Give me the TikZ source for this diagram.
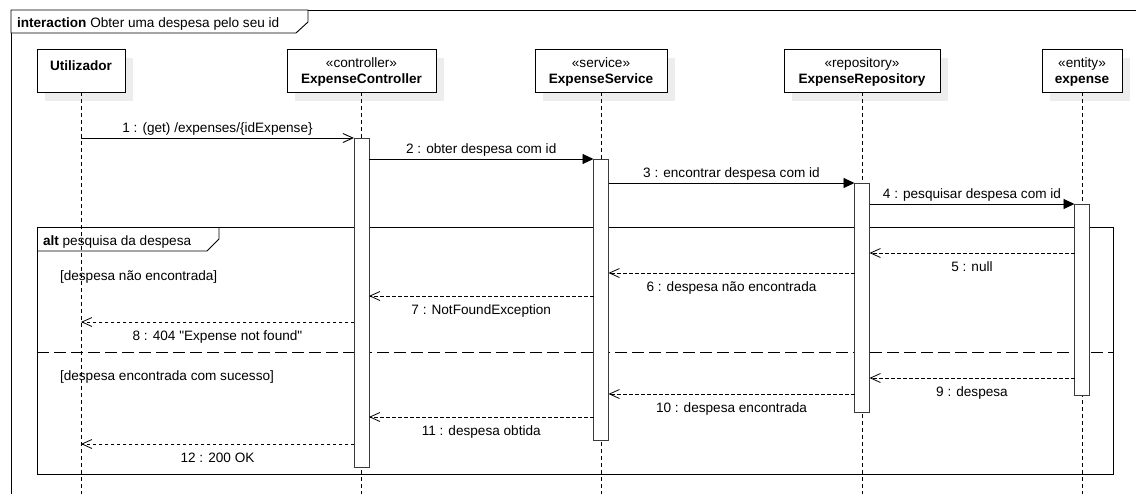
\documentclass[tikz,border=0pt]{standalone}
\usepackage{fontspec}
\setmainfont{Liberation Sans}
\usetikzlibrary{arrows.meta}
\definecolor{shadowgray}{HTML}{EDEDED}
\definecolor{barline}{HTML}{3A3A3A}
\begin{document}
\begin{tikzpicture}[x=1pt,y=-1pt,
  every node/.style={inner sep=0pt, outer sep=0pt, font=\fontsize{13.6}{16}\selectfont},
  objbox/.style={draw, fill=white, line width=0.9pt, minimum height=43pt},
  shadowbox/.style={fill=shadowgray, draw=none, minimum height=43pt},
  boxtext/.style={anchor=base},
  lifeline/.style={line width=0.8pt, dash pattern=on 4pt off 3pt},
  actbar/.style={draw=barline, fill=white, line width=0.9pt, minimum width=15pt, anchor=north},
  frameline/.style={line width=0.9pt},
  call/.style={line width=0.9pt, -{Triangle[length=11pt,width=10pt]}},
  opencall/.style={line width=0.9pt, -{Straight Barb[length=10pt,width=9pt]}},
  reply/.style={line width=0.8pt, dash pattern=on 3.5pt off 2.5pt, -{Straight Barb[length=10pt,width=9pt]}},
  calllbl/.style={anchor=base, yshift=5.5pt},
  replylbl/.style={anchor=base, yshift=-18pt},
]
\useasboundingbox (0,0) rectangle (1136,493);
\clip (0,0) rectangle (1136,493);

% message rows
\coordinate (r1) at (0,138);
\coordinate (r2) at (0,159);
\coordinate (r3) at (0,183);
\coordinate (r4) at (0,204);
\coordinate (r5) at (0,253);
\coordinate (r6) at (0,273);
\coordinate (r7) at (0,296);
\coordinate (r8) at (0,322);
\coordinate (r9) at (0,378);
\coordinate (r10) at (0,394);
\coordinate (r11) at (0,417);
\coordinate (r12) at (0,444);
\coordinate (bottom) at (0,500);

% outer interaction frame
\draw[frameline] (11,10) rectangle (1160,520);
\draw[frameline, fill=white] (11,10) -- (308,10) -- (308,22) -- (296,33) -- (11,33) -- cycle;
\node[anchor=base west] (frameTitle) at (17,27) {\textbf{interaction} Obter uma despesa pelo seu id};

% lifeline heads with shadows
\node[shadowbox, minimum width=88pt] (userSh) at (89,79.5) {};
\node[shadowbox, minimum width=149pt] (ctrlSh) at (369.5,79.5) {};
\node[shadowbox, minimum width=132pt] (svcSh) at (609,79.5) {};
\node[shadowbox, minimum width=156pt] (repoSh) at (870,79.5) {};
\node[shadowbox, minimum width=80pt] (entSh) at (1090,79.5) {};

\node[objbox, minimum width=88pt] (user) at (81,70.5) {};
\node[objbox, minimum width=149pt] (ctrl) at (361.5,70.5) {};
\node[objbox, minimum width=132pt] (svc) at (601,70.5) {};
\node[objbox, minimum width=156pt] (repo) at (862,70.5) {};
\node[objbox, minimum width=80pt] (ent) at (1082,70.5) {};

\node[boxtext] (userName) at (81,70) {\textbf{Utilizador}};
\node[boxtext] (ctrlSt) at (361.5,67) {«controller»};
\node[boxtext] (ctrlName) at (361.5,83) {\textbf{ExpenseController}};
\node[boxtext] (svcSt) at (601,67) {«service»};
\node[boxtext] (svcName) at (601,83) {\textbf{ExpenseService}};
\node[boxtext] (repoSt) at (862,67) {«repository»};
\node[boxtext] (repoName) at (862,83) {\textbf{ExpenseRepository}};
\node[boxtext] (entSt) at (1082,67) {«entity»};
\node[boxtext] (entName) at (1082,83) {\textbf{expense}};

% lifelines
\foreach \o in {user,ctrl,svc,repo,ent}
  \draw[lifeline] (\o.south) -- (\o.south |- bottom);

% alt combined fragment
\draw[frameline] (37,227) rectangle (1113,474);
\draw[frameline] (37,251) -- (207,251) -- (219,239) -- (219,227);
\node[anchor=base west] (altTitle) at (43,245) {\textbf{alt}\ pesquisa da despesa};
\draw[line width=0.9pt, dash pattern=on 12pt off 5pt] (37,352) -- (1113,352);
\node[anchor=west] (guard1) at (60,277) {[despesa não encontrada]};
\node[anchor=west] (guard2) at (60,377) {[despesa encontrada com sucesso]};

% activation bars
\node[actbar, minimum height=329pt] (barC) at (ctrl.south |- r1) {};
\node[actbar, minimum height=281pt] (barS) at (svc.south |- r2) {};
\node[actbar, minimum height=229pt] (barR) at (repo.south |- r3) {};
\node[actbar, minimum height=191pt] (barE) at (ent.south |- r4) {};

% calls
\draw[opencall] (user.south |- r1) -- node[calllbl] (m1) {1 : (get) /expenses/\{idExpense\}} (barC.west |- r1);
\draw[call] (barC.east |- r2) -- node[calllbl] (m2) {2 : obter despesa com id} (barS.west |- r2);
\draw[call] (barS.east |- r3) -- node[calllbl] (m3) {3 : encontrar despesa com id} (barR.west |- r3);
\draw[call] (barR.east |- r4) -- node[calllbl] (m4) {4 : pesquisar despesa com id} (barE.west |- r4);

% replies, first operand
\draw[reply] (barE.west |- r5) -- node[replylbl] (m5) {5 : null} (barR.east |- r5);
\draw[reply] (barR.west |- r6) -- node[replylbl] (m6) {6 : despesa não encontrada} (barS.east |- r6);
\draw[reply] (barS.west |- r7) -- node[replylbl] (m7) {7 : NotFoundException} (barC.east |- r7);
\draw[reply] (barC.west |- r8) -- node[replylbl] (m8) {8 : 404 \textquotedbl Expense not found\textquotedbl} (user.south |- r8);

% replies, second operand
\draw[reply] (barE.west |- r9) -- node[replylbl] (m9) {9 : despesa} (barR.east |- r9);
\draw[reply] (barR.west |- r10) -- node[replylbl] (m10) {10 : despesa encontrada} (barS.east |- r10);
\draw[reply] (barS.west |- r11) -- node[replylbl] (m11) {11 : despesa obtida} (barC.east |- r11);
\draw[reply] (barC.west |- r12) -- node[replylbl] (m12) {12 : 200 OK} (user.south |- r12);
\end{tikzpicture}
\end{document}
